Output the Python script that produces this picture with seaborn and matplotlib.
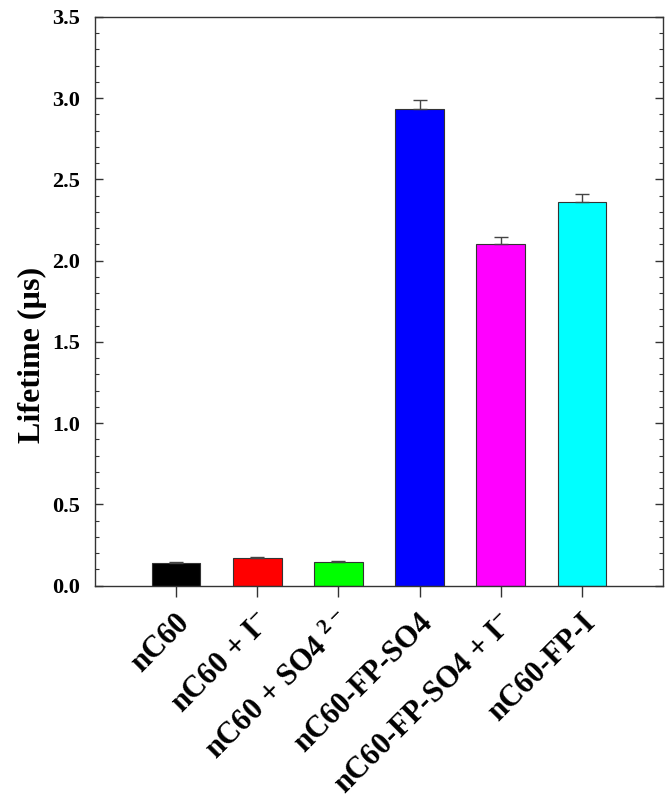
import numpy as np
import pandas as pd
import matplotlib
matplotlib.use("Agg")
import matplotlib.pyplot as plt
import matplotlib.transforms as mtransforms
import seaborn as sns
from matplotlib.ticker import MultipleLocator

# datos
muestras = ["nC60", "nC60 + I$^{-}$", "nC60 + SO4 $^{2-}$", "nC60-FP-SO4",
            "nC60-FP-SO4 + I$^{-}$", "nC60-FP-I"]
tiempo_vida = [0.138, 0.173, 0.144, 2.935, 2.10, 2.36]
error = [0.007, 0.006, 0.006, 0.055, 0.045, 0.05]
colores = ["#000000", "#ff0000", "#00ff00", "#0000ff", "#ff00ff", "#00ffff"]

sns.set_style("ticks")
plt.rcParams["font.family"] = ["Liberation Serif", "DejaVu Serif"]
plt.rcParams["font.weight"] = "bold"
plt.rcParams["text.color"] = "black"
plt.rcParams["axes.labelcolor"] = "black"
plt.rcParams["xtick.color"] = "#333333"
plt.rcParams["ytick.color"] = "#333333"
plt.rcParams["xtick.labelcolor"] = "black"
plt.rcParams["ytick.labelcolor"] = "black"
plt.rcParams["mathtext.fontset"] = "custom"
plt.rcParams["mathtext.rm"] = "Liberation Serif:bold"
plt.rcParams["mathtext.it"] = "Liberation Serif:bold"
plt.rcParams["mathtext.bf"] = "Liberation Serif:bold"

df = pd.DataFrame({"muestra": muestras, "vida": tiempo_vida})

fig = plt.figure(figsize=(6.66, 7.98), dpi=100)
ax = fig.add_axes([0.1426, 0.266, 0.853, 0.7127])

sns.barplot(data=df, x="muestra", y="vida", hue="muestra", palette=colores,
            saturation=1, legend=False, width=0.6, edgecolor="#333333",
            linewidth=0.8, ax=ax)

pos = np.arange(len(muestras))
ax.errorbar(pos, tiempo_vida, yerr=[np.zeros(len(error)), error], fmt="none",
            ecolor="#444444", elinewidth=1, capsize=5, capthick=1)

ax.set_xlim(-1, 6)
ax.set_ylim(0, 3.5)
ax.yaxis.set_minor_locator(MultipleLocator(0.1))
ax.set_yticks(np.arange(0, 3.51, 0.5))
ax.set_yticklabels([f"{v:.1f}" for v in np.arange(0, 3.51, 0.5)],
                   fontsize=16, fontweight="bold")

ax.tick_params(axis="y", which="major", direction="in", length=6, width=1,
               right=True, left=True, pad=11)
ax.tick_params(axis="y", which="minor", direction="in", length=3, width=0.8,
               right=True, left=True)
ax.tick_params(axis="x", direction="out", length=8, width=1, pad=2)

ax.set_xticks(pos)
ax.set_xticklabels(muestras, rotation=45, ha="right", va="center",
                   rotation_mode="anchor", fontsize=22, fontweight="bold")
# desplazar las etiquetas hacia abajo y a la derecha
desplaza = mtransforms.ScaledTranslation(9 / 100, -19 / 100, fig.dpi_scale_trans)
for lbl in ax.get_xticklabels():
    lbl.set_transform(lbl.get_transform() + desplaza)

ax.set_xlabel("")
ax.set_ylabel("Lifetime (µs)", fontsize=23, fontweight="bold")
ax.yaxis.set_label_coords(-0.085, 0.406)

for s in ax.spines.values():
    s.set_visible(True)
    s.set_linewidth(1)
    s.set_color("#333333")

fig.savefig("out.png", dpi=100)
